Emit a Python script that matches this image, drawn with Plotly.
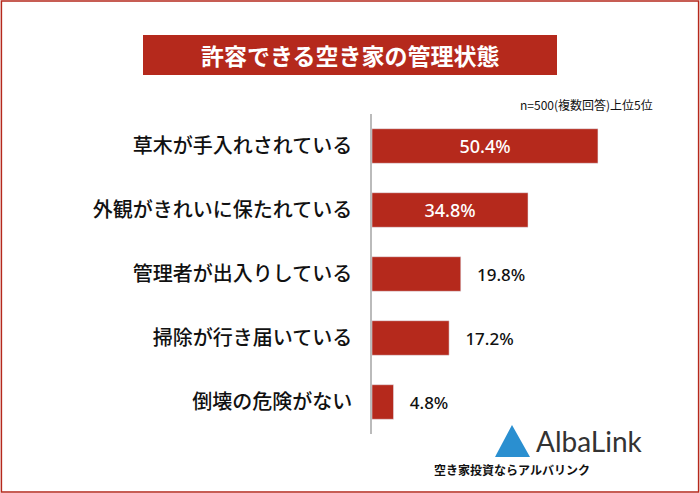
import plotly.graph_objects as go

categories = ["草木が手入れされている", "外観がきれいに保たれている", "管理者が出入りしている", "掃除が行き届いている", "倒壊の危険がない"]
values = [50.4, 34.8, 19.8, 17.2, 4.8]
labels = ["50.4%", "34.8%", "19.8%", "17.2%", "4.8%"]
positions = ["inside", "inside", "outside", "outside", "outside"]
red = "#b5291c"
font = "Noto Sans CJK JP"
templates = ["%{text}" if p == "inside" else "   %{text}" for p in positions]

fig = go.Figure(go.Bar(
    x=values, y=categories, orientation="h", marker_color=red, width=0.54,
    text=labels, texttemplate=templates, textposition=positions, insidetextanchor="middle",
    insidetextfont=dict(color="white", size=18, family="Noto Sans", weight=500),
    outsidetextfont=dict(color="#111", size=17, family="Noto Sans", weight=500),
    cliponaxis=False, hoverinfo="skip",
))
W, H = 700, 493
fig.update_layout(
    width=W, height=H, margin=dict(l=0, r=0, t=0, b=0),
    plot_bgcolor="white", paper_bgcolor="white", showlegend=False,
    font=dict(family=font, color="#111"),
    xaxis=dict(domain=[372/W, 641/W], range=[0, 60], visible=False),
    yaxis=dict(domain=[1-434/H, 1-114/H], autorange="reversed", showline=True,
               linecolor="#bbb", linewidth=1.5, ticks="", ticklabelstandoff=14,
               tickfont=dict(size=20, color="#111", family=font, weight=500)),
    shapes=[
        dict(type="rect", xref="paper", yref="paper", x0=0.002, x1=0.998, y0=0.002, y1=0.998,
             line=dict(color=red, width=1.5), layer="below"),
        dict(type="rect", xref="paper", yref="paper", x0=143/W, x1=557/W, y0=1-75/H, y1=1-35/H,
             fillcolor=red, line=dict(width=0), layer="below"),
        dict(type="path", xref="paper", yref="paper",
             path=f"M {495/W} {1-457/H} L {512/W} {1-425/H} L {530/W} {1-457/H} Z",
             fillcolor="#2a8fd0", line=dict(width=0)),
    ],
    annotations=[
        dict(text="<b>許容できる空き家の管理状態</b>", x=0.5, y=1-55/H, xref="paper", yref="paper",
             yanchor="middle", showarrow=False, font=dict(size=23, color="white", family=font)),
        dict(text="n=500(複数回答)上位5位", x=655/W, y=1-104/H, xref="paper", yref="paper",
             xanchor="right", yanchor="middle", showarrow=False, font=dict(size=12, color="#111", family=font)),
        dict(text="AlbaLink", x=534/W, y=1-441/H, xref="paper", yref="paper", xanchor="left",
             yanchor="middle", showarrow=False, font=dict(size=28, color="#333", family="Lato")),
        dict(text="<b>空き家投資ならアルバリンク</b>", x=592/W, y=1-469/H, xref="paper", yref="paper",
             yanchor="middle", showarrow=False, font=dict(size=12, color="#111", family=font)),
    ],
)
fig.write_html("out.html", post_script="document.body.style.margin='0';",
               config={"displayModeBar": False})
